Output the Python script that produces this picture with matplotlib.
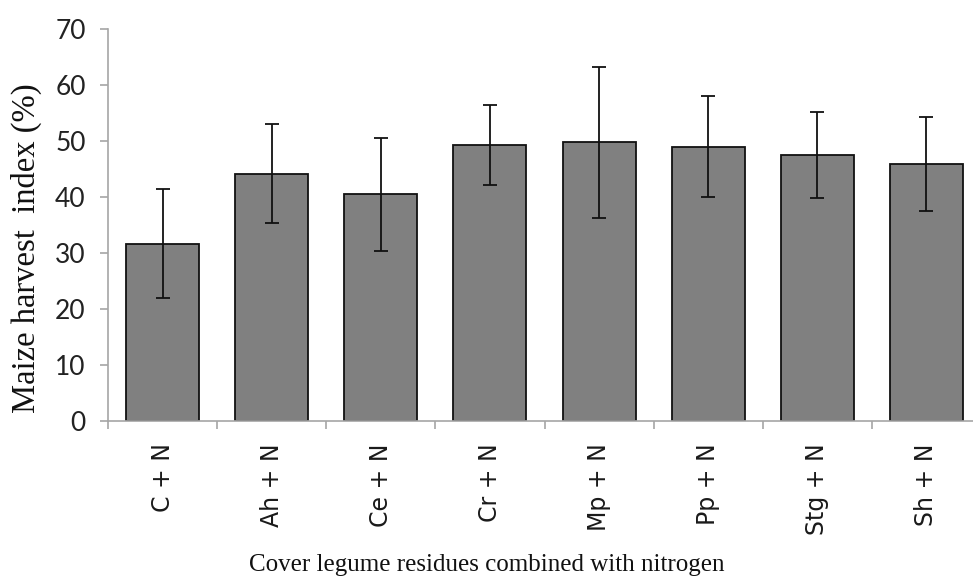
import numpy as np
import matplotlib
matplotlib.use('Agg')
import matplotlib.pyplot as plt
from matplotlib.ticker import FixedLocator, NullFormatter

treatments = ['C + N', 'Ah + N', 'Ce + N', 'Cr + N', 'Mp + N', 'Pp + N', 'Stg + N', 'Sh + N']
harvest_index = [31.7, 44.2, 40.5, 49.3, 49.8, 49.0, 47.6, 45.9]
error = [9.8, 8.8, 10.1, 7.1, 13.5, 9.0, 7.7, 8.4]

fig = plt.figure(figsize=(9.73, 5.85), dpi=100)
ax = fig.add_axes([108 / 973, 1 - 421 / 585, (981 - 108) / 973, (421 - 29.3) / 585])

x = np.arange(len(treatments))
ax.bar(x, harvest_index, width=0.67, color='#808080', edgecolor='#111111', linewidth=1.3,
       yerr=error, capsize=5, error_kw=dict(ecolor='#111111', elinewidth=1.3, capthick=1.3))

ax.set_xlim(-0.5, len(treatments) - 0.5)
ax.set_ylim(0, 70)
ax.set_yticks(np.arange(0, 71, 10))

# category labels sit at bar centres, ticks go on the boundaries between them
ax.set_xticks(x)
ax.set_xticklabels(treatments, rotation=90, fontsize=17, family='DejaVu Sans', color='#1a1a1a')
ax.tick_params(axis='x', which='major', length=0, pad=16)
ax.xaxis.set_minor_locator(FixedLocator(np.arange(-0.5, len(treatments), 1.0)))
ax.xaxis.set_minor_formatter(NullFormatter())
ax.tick_params(axis='x', which='minor', length=6, width=1.2, color='#a6a6a6', direction='out')

ax.tick_params(axis='y', length=6, width=1.2, color='#a6a6a6', direction='out', pad=10,
               labelsize=19, labelcolor='#222222')
for lab in ax.get_yticklabels():
    lab.set_family('Lato')

for side in ['top', 'right']:
    ax.spines[side].set_visible(False)
for side in ['left', 'bottom']:
    ax.spines[side].set_color('#a6a6a6')
    ax.spines[side].set_linewidth(1.2)

fig.text(0.027, (1 - 248 / 585), 'Maize harvest  index (%)', rotation=90, ha='center', va='center',
         fontsize=23.5, family='Liberation Serif', color='#111111')
fig.text(0.5, 0.034, 'Cover legume residues combined with nitrogen', ha='center', va='center',
         fontsize=18, family='Liberation Serif', color='#111111')

fig.savefig('out.png', dpi=100)
